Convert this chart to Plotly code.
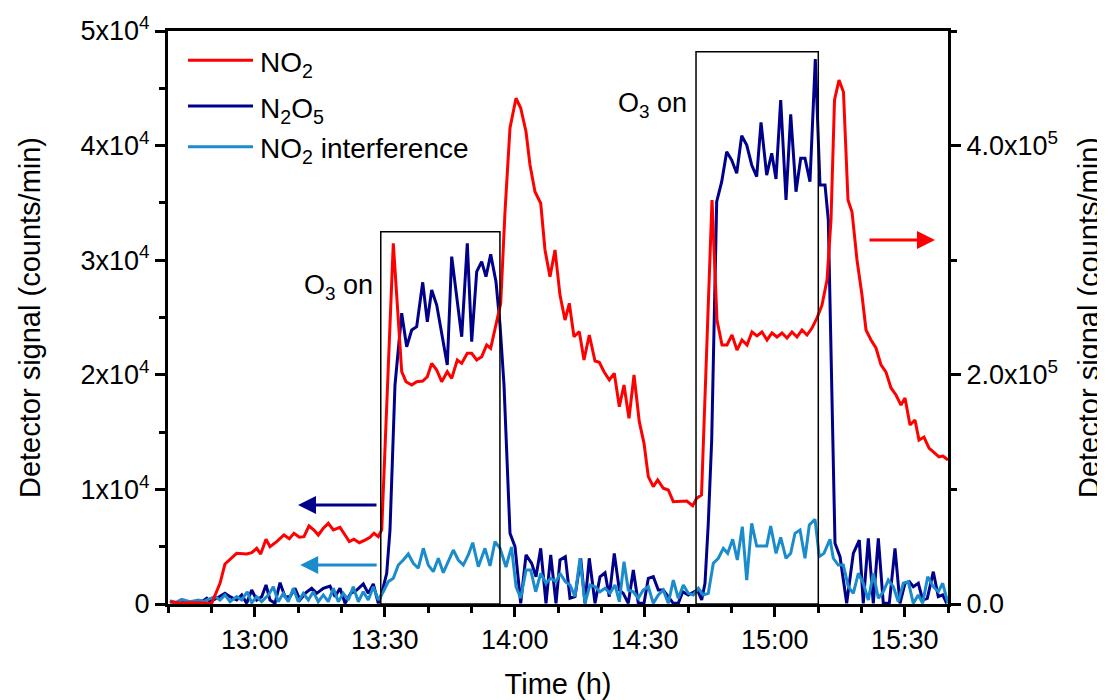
import pandas as pd
import plotly.graph_objects as go

# ---------------- data (minutes after 12:40, counts/min) ----------------
start = pd.Timestamp("2024-01-01 12:40:00")

no2_t = [0.46, 2.77, 5.77, 10.08, 12.0, 13.15, 15.85, 18.16, 19.32, 20.47,
         21.39, 22.62, 23.54, 25.08, 26.77, 27.99, 29.08, 30.30, 31.38, 32.54,
         33.69, 34.68, 35.84, 36.99, 38.15, 39.69, 40.85, 41.84, 42.92, 44.15,
         45.46, 46.62, 47.54, 48.53, 49.32, 50.54, 51.99, 53.93, 54.92, 56.24,
         57.39, 58.78, 59.84, 60.85, 62.01, 63.16, 64.45, 65.47, 66.76, 67.78,
         69.07, 70.08, 71.24, 72.39, 73.55, 74.47, 75.69, 76.78, 77.77, 78.92,
         80.31, 81.39, 82.62, 83.54, 84.69, 86.01, 87.0, 88.15, 89.31, 90.46,
         91.62, 92.61, 93.69, 94.92, 96.0, 97.22, 98.54, 99.53, 100.62, 101.84,
         102.99, 104.15, 105.23, 106.38, 107.54, 108.76, 109.85, 110.84, 111.99, 113.0,
         114.3, 115.45, 116.61, 118.15, 119.7, 121.08, 122.0, 123.12, 124.27, 125.54,
         126.69, 127.85, 129.0, 130.15, 131.31, 132.46, 133.62, 134.77, 135.92, 137.08,
         138.23, 139.38, 140.54, 141.69, 142.85, 144.0, 145.15, 146.31, 147.46, 148.62,
         149.77, 150.92, 152.08, 153.0, 153.81, 154.85, 155.88, 156.92, 157.85, 159.0,
         160.15, 161.08, 162.23, 163.38, 164.54, 165.69, 166.85, 168.0, 169.15, 170.08,
         171.23, 172.38, 173.31, 174.46, 175.62, 176.77, 177.92, 178.85, 180.0]
no2_v = [2000, 900, 1100, 600, 18100, 34900, 44200, 43600, 44800, 48600,
         43600, 56500, 50000, 54400, 60200, 57000, 61700, 58200, 58700, 68100,
         64600, 60200, 66100, 70400, 64600, 66900, 60200, 54400, 56500, 53500,
         55800, 58200, 61700, 58700, 64600, 178000, 314700, 202700, 194000, 191100,
         194000, 194600, 198300, 210000, 204200, 194000, 202700, 196900, 212900, 210000,
         218800, 218800, 212900, 215800, 226000, 223100, 243500, 262400, 342300, 415400,
         441300, 432800, 412100, 383100, 359800, 349700, 308900, 285600, 308900, 269600,
         247800, 262400, 233200, 237600, 212900, 234700, 212000, 210900, 202700, 195500,
         201300, 172200, 191100, 162000, 199800, 159100, 140200, 111100, 102400, 108200,
         101000, 99500, 89300, 89900, 89900, 85800, 92200, 95100, 212900, 352500,
         247800, 226000, 226000, 234700, 221600, 230400, 226000, 237300, 233900, 237300,
         230400, 236500, 233000, 236500, 232100, 237300, 233000, 239100, 234700, 240800,
         249600, 260900, 282700, 335100, 439800, 457200, 446800, 352500, 342100, 300200,
         269600, 239100, 230400, 223400, 208600, 202400, 188500, 182400, 173600, 179800,
         156200, 160600, 143100, 145700, 136100, 131800, 128300, 129100, 125700]

n2o5_t = [0.46, 2.77, 5.84, 8.15, 8.93, 9.69, 11.24, 13.15, 14.31, 15.85,
          17.01, 18.16, 19.32, 20.47, 21.62, 22.62, 23.54, 24.69, 25.85, 27.0,
          28.15, 29.31, 30.46, 31.85, 33.16, 34.32, 35.84, 37.38, 38.54, 39.69,
          40.85, 42.16, 43.55, 45.07, 46.22, 47.38, 48.53, 49.32, 50.47, 51.23,
          52.38, 53.93, 55.08, 56.24, 57.39, 58.78, 59.84, 60.85, 62.01, 63.18,
          64.45, 65.47, 66.62, 67.78, 69.07, 70.08, 71.24, 72.39, 73.38, 74.47,
          75.69, 76.62, 77.54, 78.92, 80.08, 81.39, 82.62, 83.93, 84.92, 86.01,
          87.23, 88.32, 89.54, 90.46, 91.69, 92.77, 93.92, 95.24, 96.23, 97.22,
          98.54, 99.69, 100.85, 101.84, 102.99, 104.15, 105.07, 106.22, 107.38, 108.53,
          109.85, 110.84, 111.99, 113.15, 114.3, 115.45, 116.61, 117.76, 118.78, 120.07,
          121.22, 122.15, 123.16, 123.92, 124.68, 125.47, 126.62, 127.78, 128.93, 130.08,
          131.24, 132.39, 133.55, 134.7, 135.85, 136.85, 138.16, 139.32, 140.31, 141.39,
          142.62, 143.7, 144.92, 146.01, 147.0, 148.15, 149.38, 150.46, 151.62, 152.38,
          153.92, 155.08, 156.62, 158.15, 159.53, 160.45, 161.61, 162.76, 163.92, 165.07,
          166.45, 167.77, 168.92, 170.08, 171.07, 172.0, 173.15, 174.16, 175.22, 176.61,
          177.76, 178.78, 179.7]
n2o5_v = [200, 90, 200, 290, 500, 200, 500, 930, 640, 350,
          790, 60, 1220, 350, 640, 1660, 350, 60, 1860, 640,
          640, 1370, 350, 990, 1370, 930, 1370, 1570, 640, 1370,
          60, 930, 1220, 1750, 930, 1750, 60, 930, 2680, 6460,
          19110, 25370, 22450, 23910, 24200, 28070, 24630, 27400, 26090, 23470,
          20860, 30310, 26820, 23320, 31480, 22890, 29000, 29870, 28560, 30510,
          28120, 24350, 19110, 6170, 5000, 60, 4280, 3550, 2380, 4860,
          60, 4280, 60, 3840, 4130, 500, 640, 3990, 60, 3990,
          60, 2380, 2730, 640, 4420, 1220, 930, 60, 2970, 60,
          60, 2240, 2380, 1220, 1220, 640, 60, 60, 1070, 790,
          1070, 1220, 350, 1810, 7040, 14310, 35100, 36850, 39470, 38740,
          37580, 40860, 40050, 38310, 37290, 42030, 37430, 39330, 37090, 43980,
          35250, 42730, 35980, 38890, 38890, 36850, 47560, 36560, 36560, 33510,
          5300, 4130, 60, 4420, 5580, 60, 5730, 60, 5730, 60,
          60, 4860, 60, 1810, 1950, 1510, 1810, 350, 500, 2820,
          640, 790, 60]

intf_t = [0.46, 1.62, 3.16, 5.08, 6.99, 8.15, 9.30, 10.85, 12.0, 13.15,
          14.31, 15.85, 17.01, 18.30, 19.32, 20.47, 21.62, 23.15, 24.30, 25.45,
          26.61, 27.76, 28.92, 30.07, 31.22, 32.38, 33.53, 34.68, 35.84, 36.99,
          38.15, 39.30, 40.45, 41.61, 42.76, 43.92, 45.07, 46.22, 47.38, 48.53,
          49.68, 50.84, 51.99, 53.15, 54.30, 55.45, 56.61, 57.76, 58.92, 60.07,
          61.22, 62.38, 63.53, 64.68, 65.84, 66.99, 68.15, 69.30, 70.32, 71.61,
          73.15, 74.31, 75.46, 76.62, 78.0, 79.27, 80.31, 81.39, 82.62, 83.70,
          84.85, 86.01, 87.23, 88.32, 89.54, 90.46, 91.69, 92.77, 93.92, 95.08,
          96.23, 97.38, 98.54, 99.69, 100.85, 102.0, 103.15, 104.15, 105.23, 106.22,
          107.38, 108.53, 109.68, 110.84, 111.99, 113.15, 114.30, 115.45, 116.61, 117.76,
          118.92, 120.07, 121.22, 122.38, 123.53, 124.68, 125.84, 126.99, 128.15, 129.16,
          130.31, 131.38, 132.53, 133.55, 134.70, 135.85, 137.01, 138.16, 139.08, 140.31,
          141.39, 142.62, 143.70, 144.69, 145.85, 147.0, 148.0, 149.31, 150.30, 151.38,
          152.77, 153.53, 154.68, 155.84, 156.99, 158.15, 159.30, 160.45, 161.61, 162.76,
          163.92, 165.07, 166.22, 167.38, 168.53, 169.69, 170.84, 171.99, 173.15, 174.16,
          175.31, 176.61, 177.76, 178.78, 180.0]
intf_v = [290, 110, 410, 200, 350, 200, 410, 640, 350, 790,
          200, 640, 350, 1070, 110, 640, 200, 790, 1510, 200,
          930, 200, 1370, 200, 930, 350, 1070, 200, 790, 200,
          1370, 200, 930, 350, 1510, 200, 1070, 350, 1510, 350,
          1070, 1950, 2240, 3400, 3840, 4360, 3550, 3120, 4860, 3400,
          2820, 3990, 2730, 3690, 4710, 3840, 3400, 4280, 5350, 3250,
          4860, 3320, 5440, 4860, 3230, 4970, 1510, 500, 2970, 2970,
          1070, 2680, 1810, 2240, 1950, 2680, 1950, 1660, 640, 3990,
          60, 1660, 1510, 1070, 1370, 930, 1660, 200, 3690, 1220,
          1070, 500, 1220, 1510, 60, 790, 1220, 60, 2090, 500,
          1660, 930, 790, 1370, 790, 930, 3550, 3990, 4860, 4420,
          5650, 3840, 6750, 2090, 7040, 5060, 5060, 5060, 6810, 4420,
          5820, 3990, 4420, 6170, 6460, 3990, 6890, 7390, 4130, 4420,
          5650, 3990, 3400, 3400, 1510, 930, 2680, 1810, 350, 2680,
          500, 1070, 2090, 1510, 200, 1810, 1950, 60, 790, 60,
          2380, 1510, 1070, 1810, 60]

series_names = ["NO<sub>2</sub>", "N<sub>2</sub>O<sub>5</sub>", "NO<sub>2</sub> interference"]
series_colors = ["#ff0000", "#00008b", "#1a8ccc"]

left_ticks = [0, 10000, 20000, 30000, 40000, 50000]
left_ticktext = ["0", "1x10<sup>4</sup>", "2x10<sup>4</sup>", "3x10<sup>4</sup>",
                 "4x10<sup>4</sup>", "5x10<sup>4</sup>"]
right_ticks = [0, 200000, 400000]
right_ticktext = ["0.0", "2.0x10<sup>5</sup>", "4.0x10<sup>5</sup>"]

# O3-on periods (minutes after 12:40) and box heights (left-axis units)
o3_start = [49.1, 121.85]
o3_end = [76.6, 150.07]
o3_top = [32490, 48190]


def to_time(mins):
    return [start + pd.Timedelta(minutes=m) for m in mins]


def tm(m):
    return start + pd.Timedelta(minutes=m)


FONT = "Arial, Liberation Sans, sans-serif"
FS_TICK = 27
FS_TITLE = 29
FS_LEG = 28
FS_NOTE = 27

fig = go.Figure()
fig.add_trace(go.Scatter(x=to_time(n2o5_t), y=n2o5_v, mode="lines", name=series_names[1],
                         line=dict(color=series_colors[1], width=3), yaxis="y"))
fig.add_trace(go.Scatter(x=to_time(intf_t), y=intf_v, mode="lines", name=series_names[2],
                         line=dict(color=series_colors[2], width=3), yaxis="y"))
fig.add_trace(go.Scatter(x=to_time(no2_t), y=no2_v, mode="lines", name=series_names[0],
                         line=dict(color=series_colors[0], width=3), yaxis="y2"))

shapes = []
for s, e, top in zip(o3_start, o3_end, o3_top):
    shapes.append(dict(type="rect", xref="x", yref="y", x0=tm(s), x1=tm(e), y0=0, y1=top,
                       line=dict(color="black", width=1.5), fillcolor="rgba(0,0,0,0)"))

# manual legend (long line samples like the original)
leg_y = [0.949, 0.869, 0.798]
for name, col, ly in zip(series_names, series_colors, leg_y):
    shapes.append(dict(type="line", xref="paper", yref="paper", x0=0.0256, x1=0.109,
                       y0=ly, y1=ly, line=dict(color=col, width=3)))

annotations = []
for name, ly in zip(series_names, leg_y):
    annotations.append(dict(xref="paper", yref="paper", x=0.116, y=ly, text=name,
                            showarrow=False, xanchor="left", yanchor="middle", yshift=-4,
                            font=dict(family=FONT, size=FS_LEG, color="black")))

annotations.append(dict(xref="x", yref="y", x=tm(39.4), y=27660, text="O<sub>3</sub> on",
                        showarrow=False, font=dict(family=FONT, size=FS_NOTE, color="black")))
annotations.append(dict(xref="x", yref="y", x=tm(111.7), y=43540, text="O<sub>3</sub> on",
                        showarrow=False, font=dict(family=FONT, size=FS_NOTE, color="black")))

# arrows pointing at the axis each series belongs to
annotations.append(dict(xref="x", yref="y", x=tm(30.0), y=8640, ax=80, ay=0, text="",
                        showarrow=True, arrowhead=2, arrowsize=1.2, arrowwidth=3,
                        arrowcolor=series_colors[1]))
annotations.append(dict(xref="x", yref="y", x=tm(30.5), y=3400, ax=78, ay=0, text="",
                        showarrow=True, arrowhead=2, arrowsize=1.2, arrowwidth=3,
                        arrowcolor=series_colors[2]))
annotations.append(dict(xref="x", yref="y2", x=tm(177.0), y=317600, ax=-67, ay=0, text="",
                        showarrow=True, arrowhead=2, arrowsize=1.2, arrowwidth=3,
                        arrowcolor=series_colors[0]))

# the page body adds an 8 px offset, so the figure is 8 px smaller each way
fig.update_layout(
    width=1097, height=692,
    margin=dict(l=160, r=157, t=23, b=96, autoexpand=False),
    paper_bgcolor="white", plot_bgcolor="white",
    showlegend=False,
    font=dict(family=FONT, size=FS_TICK, color="black"),
    shapes=shapes, annotations=annotations,
    xaxis=dict(
        type="date", range=[tm(0), tm(180)], automargin=False,
        tickformat="%H:%M", dtick=30 * 60 * 1000, tick0=tm(0).strftime("%Y-%m-%d 00:00:00"),
        ticks="outside", ticklen=10, tickwidth=3, tickcolor="black",
        minor=dict(dtick=10 * 60 * 1000, ticks="outside", ticklen=6, tickwidth=3,
                   tickcolor="black", showgrid=False),
        showline=True, linewidth=3, linecolor="black", mirror=True,
        showgrid=False, zeroline=False,
        tickfont=dict(family=FONT, size=FS_TICK),
        title=dict(text="Time (h)", font=dict(family=FONT, size=FS_TITLE), standoff=22),
    ),
    yaxis=dict(
        range=[0, 50000], tickmode="array", tickvals=left_ticks, ticktext=left_ticktext,
        automargin=False,
        ticks="outside", ticklen=10, tickwidth=3, tickcolor="black",
        minor=dict(tickmode="linear", tick0=0, dtick=5000, ticks="outside", ticklen=6,
                   tickwidth=3, tickcolor="black", showgrid=False),
        showline=True, linewidth=3, linecolor="black",
        showgrid=False, zeroline=False,
        tickfont=dict(family=FONT, size=FS_TICK),
        title=dict(text="Detector signal (counts/min)", font=dict(family=FONT, size=FS_TITLE),
                   standoff=32),
    ),
    yaxis2=dict(
        overlaying="y", side="right", automargin=False,
        range=[0, 500000], tickmode="array", tickvals=right_ticks, ticktext=right_ticktext,
        ticks="outside", ticklen=10, tickwidth=3, tickcolor="black",
        minor=dict(tickmode="linear", tick0=0, dtick=100000, ticks="outside", ticklen=6,
                   tickwidth=3, tickcolor="black", showgrid=False),
        showline=True, linewidth=3, linecolor="black",
        showgrid=False, zeroline=False,
        tickfont=dict(family=FONT, size=FS_TICK),
        title=dict(text="Detector signal (counts/min)", font=dict(family=FONT, size=FS_TITLE),
                   standoff=22),
    ),
)

fig.write_html("out.html")
